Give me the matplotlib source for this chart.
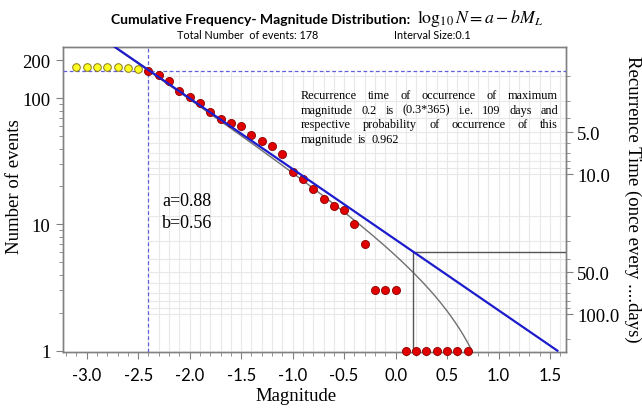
import matplotlib
matplotlib.use("Agg")
import matplotlib.pyplot as plt
import numpy as np
from matplotlib.ticker import FixedLocator, NullFormatter

# cumulative counts per magnitude bin (interval 0.1)
m_below = [-3.1, -3.0, -2.9, -2.8, -2.7, -2.6, -2.5]
n_below = [178, 178, 178, 178, 177, 174, 171]
m_fit = [-2.4, -2.3, -2.2, -2.1, -2.0, -1.9, -1.8, -1.7, -1.6, -1.5, -1.4, -1.3,
         -1.2, -1.1, -1.0, -0.9, -0.8, -0.7, -0.6, -0.5, -0.4, -0.3, -0.2, -0.1,
         0.0, 0.1, 0.2, 0.3, 0.4, 0.5, 0.6, 0.7]
n_fit = [164, 153, 136, 115, 102, 92, 78, 69, 64, 60, 51, 46,
         42, 36, 26, 23, 19, 16, 14, 13, 10, 7, 3, 3,
         3, 1, 1, 1, 1, 1, 1, 1]

a_val = 0.88
b_val = 0.56
m_c = -2.4          # magnitude of completeness
m_trunc = 1.066     # upper bound of truncated curve
m_mark = 0.17       # recurrence marker

y_ticks = [1, 10, 100, 200]
x_ticks = [-3.0, -2.5, -2.0, -1.5, -1.0, -0.5, 0.0, 0.5, 1.0, 1.5]
rt_ticks = [5.0, 10.0, 50.0, 100.0]

box_lines = ["Recurrence time of occurrence of maximum",
             "magnitude 0.2 is (0.3*365) i.e. 109 days and",
             "respective probability of occurrence of this",
             "magnitude  is 0.962"]

plt.rcParams["axes.unicode_minus"] = False
plt.rcParams["mathtext.fontset"] = "stix"
SERIF = ["Liberation Serif", "DejaVu Serif"]
SANS = ["Lato", "DejaVu Sans"]

W, H = 642, 410


def fx(px):
    return px / W


def fy(py):
    return 1 - py / H


fig = plt.figure(figsize=(W / 100, H / 100), dpi=100)
ax = fig.add_axes([fx(63), fy(353), (566 - 63) / W, (353 - 48) / H])
ax.set_yscale("log")
xmin, xmax = -3.23, 1.655
ymin, ymax = 0.976, 255
ax.set_xlim(xmin, xmax)
ax.set_ylim(ymin, ymax)

n_c = n_fit[0]

# light grid inside the completeness region
grid_c = "#e8e8e8"
for m in np.arange(-24, 17) / 10:
    ax.plot([m, m], [ymin, n_c], color=grid_c, lw=0.8, zorder=0)

ax2 = ax.twinx()
ax2.set_yscale("log")
ax2.set_ylim(185.8, 1.236)
t_minor = [2, 3, 4, 6, 7, 8, 9, 20, 30, 40, 60, 70, 80, 90]
for t in t_minor + rt_ticks:
    ax2.plot([m_c, xmax], [t, t], color=grid_c, lw=0.8, zorder=0)
ax2.set_yticks(rt_ticks)
ax2.set_yticklabels([f"{t:.1f}" for t in rt_ticks], fontfamily=SERIF, fontsize=13.5)
ax2.yaxis.set_minor_locator(FixedLocator(t_minor + [150]))
ax2.yaxis.set_minor_formatter(NullFormatter())
ax2.tick_params(axis="y", which="major", length=5, color="#808080", pad=3)
ax2.tick_params(axis="y", which="minor", length=3, color="#808080")
ax2.set_zorder(ax.get_zorder() - 1)
ax.patch.set_visible(False)

# fitted and truncated relations
mm = np.linspace(xmin, a_val / b_val, 400)
ax.plot(mm, 10 ** (a_val - b_val * mm), color="#1c1ccc", lw=1.6, zorder=6)
mt = np.linspace(xmin, m_trunc, 600)
nt = 10 ** (a_val - b_val * mt) - 10 ** (a_val - b_val * m_trunc)
ax.plot(mt[nt > 0], nt[nt > 0], color="#707070", lw=1.0, zorder=4)

ax.axvline(m_c, color="#6060dd", lw=0.9, ls=(0, (3, 2)), zorder=3)
ax.axhline(n_c, color="#6060dd", lw=0.9, ls=(0, (3, 2)), zorder=3)

n_mark = 10 ** (a_val - b_val * m_mark)
ax.plot([m_mark, xmax], [n_mark, n_mark], color="#555555", lw=1.0, zorder=4)
ax.plot([m_mark, m_mark], [ymin, n_mark], color="#555555", lw=1.0, zorder=4)

ax.scatter(m_below, n_below, s=30, color="#ffff22", edgecolors="#8a7a10",
           linewidths=0.7, zorder=5, clip_on=False)
ax.scatter(m_fit, n_fit, s=34, color="#e00000", edgecolors="#8a0000",
           linewidths=0.6, zorder=5, clip_on=False)

# axes styling
for ax_ in (ax, ax2):
    for sp in ax_.spines.values():
        sp.set_color("#808080")
        sp.set_linewidth(1.0)

ax.set_xticks(x_ticks)
ax.set_xticklabels([f"{x:.1f}" for x in x_ticks], fontfamily=SANS, fontsize=12)
ax.xaxis.set_minor_locator(FixedLocator(np.arange(-32, 17) / 10))
ax.tick_params(axis="x", which="major", length=5, color="#808080", pad=6)
ax.tick_params(axis="x", which="minor", length=3, color="#808080")

ax.yaxis.set_major_locator(FixedLocator(y_ticks))
ax.set_yticklabels([str(v) for v in y_ticks], fontfamily=SERIF, fontsize=13.5)
ax.yaxis.set_minor_locator(FixedLocator([2, 3, 4, 5, 6, 7, 8, 9,
                                         20, 30, 40, 50, 60, 70, 80, 90]))
ax.yaxis.set_minor_formatter(NullFormatter())
ax.tick_params(axis="y", which="major", length=5, color="#808080", pad=4)
ax.tick_params(axis="y", which="minor", length=3, color="#808080")

ax.set_xlabel("Magnitude", fontfamily=SERIF, fontsize=13.5)
ax.xaxis.set_label_coords((296 - 63) / 503, -0.115)
ax.set_ylabel("Number of events", fontfamily=SERIF, fontsize=13.5)
ax.yaxis.set_label_coords(-0.08, 0.545)

fig.text(fx(633), fy(199), "Recurrence Time (once every ....days)", rotation=270,
         ha="center", va="center", fontfamily=SERIF, fontsize=13.5)

# titles
fig.text(fx(410), fy(24), "Cumulative Frequency- Magnitude Distribution:",
         ha="right", va="baseline", fontfamily=SANS, fontweight="bold", fontsize=10.1)
fig.text(fx(417), fy(23), r"$\log_{10}N = a - bM_L$", ha="left", va="baseline",
         fontsize=12.8)
fig.text(fx(177), fy(39), "Total Number  of events: 178", ha="left", va="baseline",
         fontfamily=SANS, fontsize=7.8)
fig.text(fx(394), fy(39), "Interval Size:0.1", ha="left", va="baseline",
         fontfamily=SANS, fontsize=7.8)

fig.text(fx(162), fy(206), f"a={a_val:.2f}", ha="left", va="baseline",
         fontfamily=SERIF, fontsize=13)
fig.text(fx(162), fy(228), f"b={b_val:.2f}", ha="left", va="baseline",
         fontfamily=SERIF, fontsize=13)

# justified note block
renderer = fig.canvas.get_renderer()
x0, x1 = 301, 558
note_kw = dict(fontfamily=SERIF, fontsize=8.8, va="baseline", ha="left")
sp = fig.text(0, 0, "a a", **note_kw)
sp_w = sp.get_window_extent(renderer).width
tmp = fig.text(0, 0, "aa", **note_kw)
sp_w -= tmp.get_window_extent(renderer).width
sp.remove()
tmp.remove()
for i, line in enumerate(box_lines):
    words = line.split()
    base = 99 + i * 14.7
    widths = []
    for w in words:
        t = fig.text(0, 0, w, **note_kw)
        widths.append(t.get_window_extent(renderer).width)
        t.remove()
    if i < len(box_lines) - 1:
        gap = (x1 - x0 - sum(widths)) / (len(words) - 1)
    else:
        gap = sp_w * 1.6
    x = x0
    for w, wd in zip(words, widths):
        fig.text(fx(x), fy(base), w, **note_kw)
        x += wd + gap

fig.savefig("out.png", dpi=100)
